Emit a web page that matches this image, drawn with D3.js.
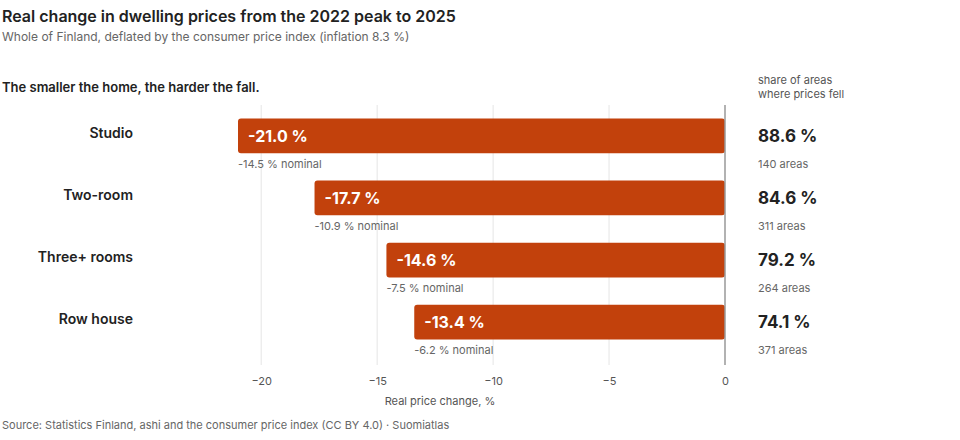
<!DOCTYPE html>
<html><head><meta charset="utf-8">
<script src="https://cdn.jsdelivr.net/npm/d3@7"></script>
<style>body{margin:0;background:#fff;font-family:Inter,"Noto Sans",sans-serif;}</style>
</head><body><div id="chart"></div>
<script>
// Data
const categories = ["Studio", "Two-room", "Three+ rooms", "Row house"];
const realChange = [-21.0, -17.7, -14.6, -13.4];
const nominalChange = [-14.5, -10.9, -7.5, -6.2];
const shareFell = [88.6, 84.6, 79.2, 74.1];
const areaCounts = [140, 311, 264, 371];
const xTicks = [-20, -15, -10, -5, 0];

const W = 960, H = 440;
const svg = d3.select("#chart").append("svg").attr("width", W).attr("height", H);
const font = "Inter, 'Noto Sans', sans-serif";

const x = d3.scaleLinear().domain([-21, 0]).range([238, 725]);
const y = d3.scaleBand().domain(categories).range([108, 350]).paddingInner(0.44).paddingOuter(0.17);

// gridlines
svg.append("g").selectAll("line").data(xTicks.filter(d => d !== 0)).enter().append("line")
    .attr("x1", d => x(d)).attr("x2", d => x(d)).attr("y1", 105).attr("y2", 365)
    .attr("stroke", "#e5e5e5");

// bars
svg.append("g").selectAll("rect").data(categories).enter().append("rect")
    .attr("x", (d, i) => x(realChange[i]))
    .attr("y", d => y(d))
    .attr("width", (d, i) => x(0) - x(realChange[i]))
    .attr("height", y.bandwidth())
    .attr("rx", 3)
    .attr("fill", "#c2410c");

svg.append("line").attr("x1", x(0)).attr("x2", x(0)).attr("y1", 105).attr("y2", 365)
    .attr("stroke", "#999").attr("stroke-width", 1.5);

const fmt = v => v.toFixed(1) + " %";

categories.forEach((c, i) => {
    const yc = y(c) + y.bandwidth() / 2;
    svg.append("text").attr("x", 133).attr("y", yc + 2).attr("text-anchor", "end")
        .attr("font-size", 14).attr("font-weight", 600).attr("fill", "#222").attr("font-family", font).text(c);
    svg.append("text").attr("x", x(realChange[i]) + 10).attr("y", yc + 6)
        .attr("font-size", 16).attr("font-weight", 700).attr("fill", "#fff").attr("font-family", font).text(fmt(realChange[i]));
    svg.append("text").attr("x", x(realChange[i])).attr("y", y(c) + y.bandwidth() + 15)
        .attr("font-size", 11).attr("fill", "#666").attr("font-family", font).text(fmt(nominalChange[i]) + " nominal");
    svg.append("text").attr("x", 758).attr("y", yc + 6)
        .attr("font-size", 17).attr("font-weight", 700).attr("fill", "#222").attr("font-family", font).text(fmt(shareFell[i]));
    svg.append("text").attr("x", 758).attr("y", y(c) + y.bandwidth() + 15)
        .attr("font-size", 11).attr("fill", "#666").attr("font-family", font).text(areaCounts[i] + " areas");
});

// axis
const axis = svg.append("g").attr("transform", "translate(0,365)")
    .call(d3.axisBottom(x).tickValues(xTicks).tickSize(0).tickPadding(12));
axis.select(".domain").remove();
axis.selectAll("text").attr("font-size", 11).attr("fill", "#555").attr("font-family", font);

svg.append("text").attr("x", 440).attr("y", 405).attr("text-anchor", "middle")
    .attr("font-size", 11).attr("fill", "#555").attr("font-family", font).text("Real price change, %");

// titles
svg.append("text").attr("x", 2).attr("y", 22).attr("font-size", 16).attr("font-weight", 600)
    .attr("fill", "#222").attr("font-family", font).text("Real change in dwelling prices from the 2022 peak to 2025");
svg.append("text").attr("x", 2).attr("y", 41).attr("font-size", 12).attr("fill", "#666")
    .attr("font-family", font).text("Whole of Finland, deflated by the consumer price index (inflation 8.3 %)");
svg.append("text").attr("x", 2).attr("y", 92).attr("font-size", 13).attr("font-weight", 600)
    .attr("fill", "#222").attr("font-family", font).text("The smaller the home, the harder the fall.");
svg.append("text").attr("x", 758).attr("y", 84).attr("font-size", 11).attr("fill", "#555")
    .attr("font-family", font).text("share of areas");
svg.append("text").attr("x", 758).attr("y", 98).attr("font-size", 11).attr("fill", "#555")
    .attr("font-family", font).text("where prices fell");
svg.append("text").attr("x", 2).attr("y", 429).attr("font-size", 11).attr("fill", "#666")
    .attr("font-family", font).text("Source: Statistics Finland, ashi and the consumer price index (CC BY 4.0) · Suomiatlas");
</script></body></html>
